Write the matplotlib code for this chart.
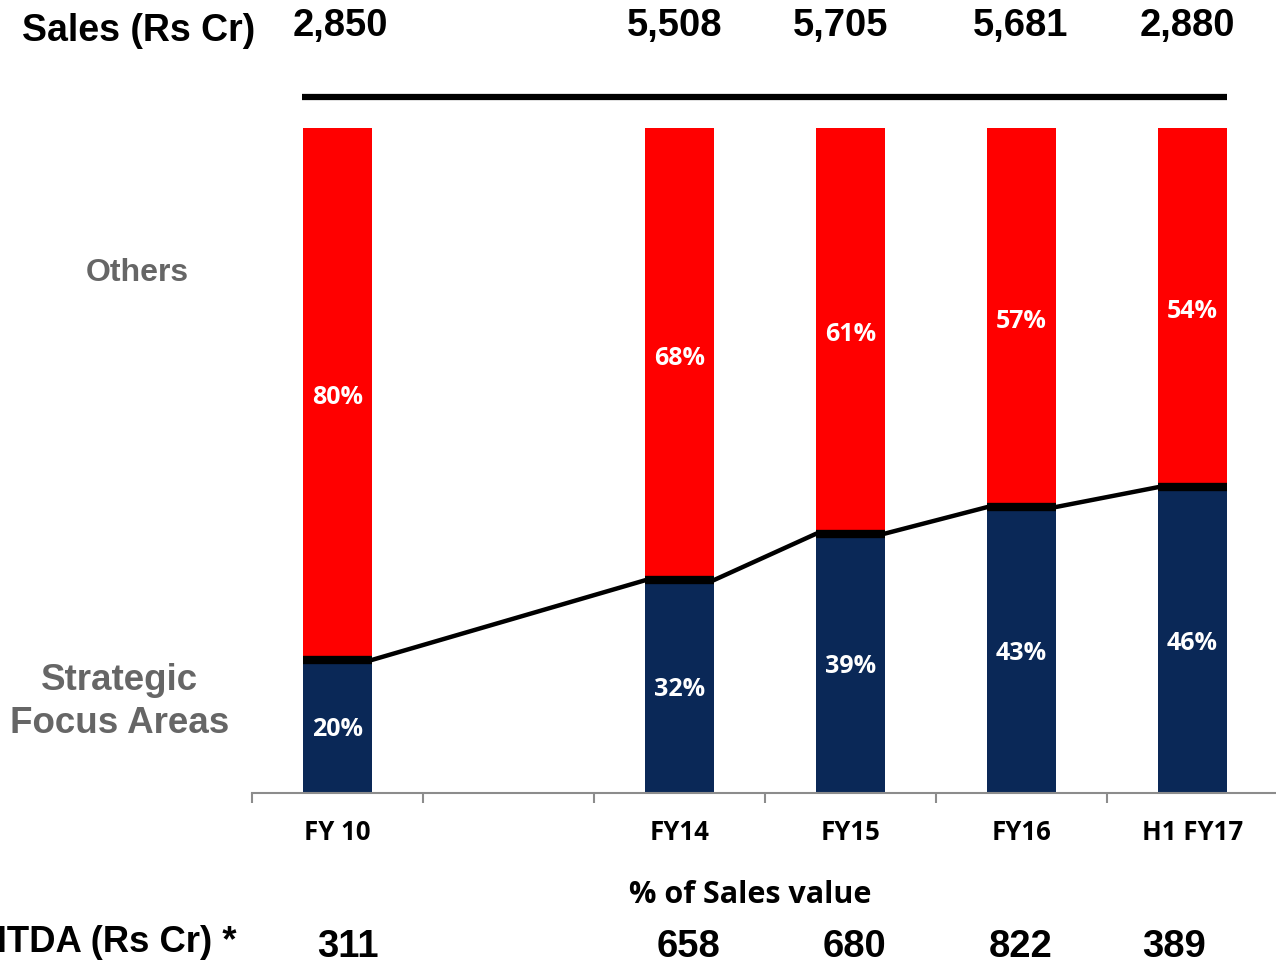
import matplotlib.pyplot as plt

# dati
periodi = ["FY 10", "", "FY14", "FY15", "FY16", "H1 FY17"]
strategic = [20, None, 32, 39, 43, 46]
others = [80, None, 68, 61, 57, 54]
vendite = ["2,850", "", "5,508", "5,705", "5,681", "2,880"]
ebitda = ["311", "", "658", "680", "822", "389"]

blu = "#0A2857"
rosso = "#FF0000"
grigio = "#666666"

fig = plt.figure(figsize=(12.76, 9.65), dpi=100)
ax = fig.add_axes([252 / 1276, 172 / 965, 1026 / 1276, 665 / 965])

larg = 0.4
xs = [i for i, v in enumerate(strategic) if v is not None]
s_val = [strategic[i] / 100 for i in xs]
o_val = [others[i] / 100 for i in xs]

ax.bar(xs, s_val, width=larg, color=blu, zorder=2)
ax.bar(xs, o_val, width=larg, bottom=s_val, color=rosso, zorder=2)

for x, s, o in zip(xs, s_val, o_val):
    ax.text(x, s / 2 - 0.005, f"{round(s * 100)}%", ha="center",
            va="center", color="white", fontsize=18, fontweight="bold",
            family="Open Sans")
    ax.text(x, s + o / 2 - 0.006, f"{round(o * 100)}%", ha="center",
            va="center", color="white", fontsize=18, fontweight="bold",
            family="Open Sans")

# linea della quota strategica
lx, ly = [], []
for x, s in zip(xs, s_val):
    lx += [x - larg / 2, x + larg / 2]
    ly += [s, s]
ax.plot(lx, ly, color="black", lw=3.2, zorder=3, solid_capstyle="butt")
ax.hlines(s_val, [x - larg / 2 for x in xs], [x + larg / 2 for x in xs],
          color="black", lw=6, zorder=4)

# linea orizzontale in alto
ax.plot([xs[0] - larg / 2 - 0.01, xs[-1] + larg / 2], [1.047, 1.047],
        color="black", lw=4.5, clip_on=False, solid_capstyle="butt")

ax.set_xlim(-0.5, 5.5)
ax.set_ylim(0, 1)
for lato in ["top", "right", "left"]:
    ax.spines[lato].set_visible(False)
ax.spines["bottom"].set_color("#8c8c8c")
ax.spines["bottom"].set_linewidth(1.5)
ax.set_yticks([])
ax.set_xticks([i - 0.5 for i in range(7)])
ax.set_xticklabels([])
ax.tick_params(axis="x", length=7, width=1.5, color="#8c8c8c")

for i, p in enumerate(periodi):
    ax.text(i, -0.060, p, ha="center", va="center", fontsize=18.5,
            fontweight="bold", family="Open Sans", clip_on=False)

def fx(px):
    return px / 1276

def fy(py):
    return 1 - py / 965

fig.text(fx(22), fy(31), "Sales (Rs Cr)", ha="left", va="center",
         fontsize=27, fontweight="bold", family="Liberation Sans")
pos_v = [340, 0, 675, 841, 1021, 1187]
for p, v in zip(pos_v, vendite):
    if v:
        fig.text(fx(p), fy(26), v, ha="center", va="center", fontsize=27.5,
                 fontweight="bold", family="Liberation Sans")

fig.text(fx(237), fy(942), "EBITDA (Rs Cr) *", ha="right", va="center",
         fontsize=26.3, fontweight="bold", family="Liberation Sans")
pos_e = [348, 0, 689, 855, 1021, 1174]
for p, v in zip(pos_e, ebitda):
    if v:
        fig.text(fx(p), fy(947), v, ha="center", va="center", fontsize=27.5,
                 fontweight="bold", family="Liberation Sans")

fig.text(fx(137), fy(273), "Others", ha="center", va="center", fontsize=23,
         fontweight="bold", color=grigio, family="Liberation Sans")
fig.text(fx(120), fy(702), "Strategic\nFocus Areas", ha="center",
         va="center", fontsize=26.5, fontweight="bold", color=grigio,
         family="Liberation Sans", linespacing=1.3)
fig.text(fx(750), fy(895), "% of Sales value", ha="center", va="center",
         fontsize=22, fontweight="bold", family="Open Sans")

fig.savefig("out.png", dpi=100)
